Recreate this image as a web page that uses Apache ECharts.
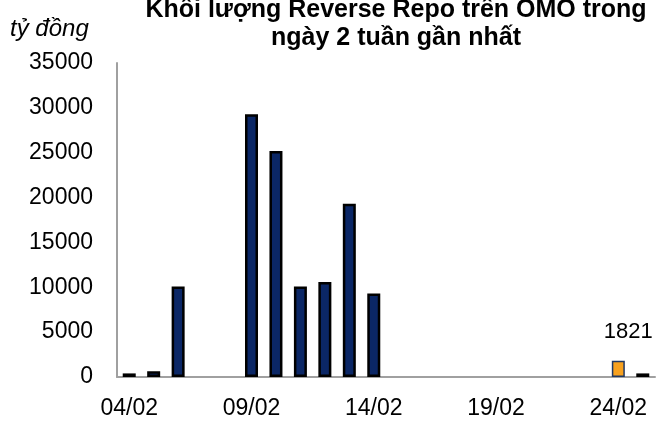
<!DOCTYPE html>
<html>
<head>
<meta charset="utf-8">
<script src="https://cdn.jsdelivr.net/npm/echarts@6/dist/echarts.min.js"></script>
<style>
html,body{margin:0;padding:0;background:#fff;}
#chart{width:662px;height:421px;}
</style>
</head>
<body>
<div id="chart"></div>
<script>
var categories = ['04/02','05/02','06/02','07/02','08/02','09/02','10/02','11/02','12/02','13/02','14/02','15/02','16/02','17/02','18/02','19/02','20/02','21/02','22/02','23/02','24/02','25/02'];
var volumes = [400, 650, 10100, null, null, 29300, 25200, 10100, 10600, 19300, 9300, null, null, null, null, null, null, null, null, null, 1821, 400];
var highlightDate = '24/02';
var yTicks = [0, 5000, 10000, 15000, 20000, 25000, 30000, 35000];
var titleText = 'Khối lượng Reverse Repo trên OMO trong\nngày 2 tuần gần nhất';
var unitText = 'tỷ đồng';

var FONT = '"Liberation Sans", Arial, sans-serif';
var seriesData = categories.map(function (c, i) {
  var v = volumes[i];
  if (v === null) return '-';
  if (c === highlightDate) {
    return {
      value: v,
      itemStyle: { color: '#F7A11F', borderColor: '#1F3864', borderWidth: 1.5 },
      label: {
        show: true, position: 'top', distance: 18, offset: [10, 0],
        fontSize: 22, color: '#000', fontFamily: FONT
      }
    };
  }
  return v;
});

var chart = echarts.init(document.getElementById('chart'), null, { renderer: 'canvas' });
chart.setOption({
  animation: false,
  backgroundColor: '#fff',
  title: {
    text: titleText,
    left: 396,
    top: -4,
    textAlign: 'center',
    padding: 0,
    textStyle: { fontFamily: FONT, fontWeight: 'bold', fontSize: 25, lineHeight: 28, color: '#000' }
  },
  graphic: [{
    type: 'text', left: 10, top: 17,
    style: { text: unitText, fontFamily: FONT, fontStyle: 'italic', fontSize: 24, fill: '#000' }
  }],
  grid: { left: 117, right: 7, top: 63, bottom: 44, containLabel: false },
  xAxis: {
    type: 'category',
    data: categories,
    axisLine: { show: true, lineStyle: { color: '#a0a0a0', width: 2 } },
    axisTick: { show: false },
    axisLabel: { interval: 4, fontFamily: FONT, fontSize: 23, color: '#000', margin: 20 },
    splitLine: { show: false }
  },
  yAxis: {
    type: 'value',
    min: yTicks[0],
    max: yTicks[yTicks.length - 1],
    interval: yTicks[1] - yTicks[0],
    axisLine: { show: true, lineStyle: { color: '#a0a0a0', width: 2 } },
    axisTick: { show: false },
    axisLabel: { fontFamily: FONT, fontSize: 23, color: '#000', margin: 24,
      formatter: function (v) { return String(v); } },
    splitLine: { show: false }
  },
  series: [{
    type: 'bar',
    data: seriesData,
    barWidth: 13,
    itemStyle: { color: '#0B2766', borderColor: '#000', borderWidth: 2.5 }
  }]
});
</script>
</body>
</html>
